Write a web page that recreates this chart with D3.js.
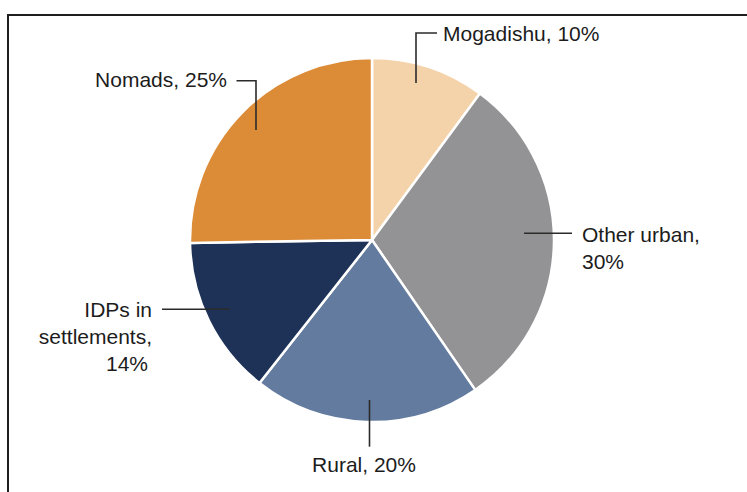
<!DOCTYPE html>
<html>
<head>
<meta charset="utf-8">
<script src="https://cdn.jsdelivr.net/npm/d3@7"></script>
<style>
  html, body { margin: 0; padding: 0; background: #fff; }
  svg { display: block; }
  text { font-family: "Liberation Sans", Arial, Helvetica, sans-serif; fill: #1c1c1c; }
</style>
</head>
<body>
<svg id="chart" width="747" height="492"></svg>
<script>
// Population groups and their shares (%)
const categories = ["Mogadishu", "Other urban", "Rural", "IDPs in settlements", "Nomads"];
const shares = [10, 30, 20, 14, 25];
const labelLines = [
  ["Mogadishu, 10%"],
  ["Other urban,", "30%"],
  ["Rural, 20%"],
  ["IDPs in", "settlements,", "14%"],
  ["Nomads, 25%"]
];
const colors = ["#f4d3aa", "#939395", "#637b9e", "#1e3258", "#dc8b37"];

const W = 747, H = 492;
const cx = 372, cy = 240, R = 182;

const svg = d3.select("#chart");

// frame (top and left edges)
svg.append("path")
  .attr("d", `M8,${H} L8,15 L${W},15`)
  .attr("fill", "none")
  .attr("stroke", "#1e1e1e")
  .attr("stroke-width", 2);

const g = svg.append("g").attr("transform", `translate(${cx},${cy})`);

const pie = d3.pie().sort(null).value(d => d.value);
const arc = d3.arc().innerRadius(0).outerRadius(R);

const data = categories.map((c, i) => ({ name: c, value: shares[i], color: colors[i], lines: labelLines[i] }));
const arcs = pie(data);

g.selectAll("path.slice")
  .data(arcs)
  .join("path")
  .attr("class", "slice")
  .attr("d", arc)
  .attr("fill", d => d.data.color)
  .attr("stroke", "#fff")
  .attr("stroke-width", 2.5)
  .attr("stroke-linejoin", "round");

// Leader lines and label placement, offsets from the pie centre
const layout = {
  "Mogadishu": { path: [[44, -157], [44, -207], [65, -207]], text: [71, -199.5], anchor: "start" },
  "Other urban": { path: [[152, -6.7], [200, -6.7]], text: [210, 1.7], anchor: "start" },
  "Rural": { path: [[-2.5, 160], [-2.5, 206.7]], text: [-8, 231.7], anchor: "middle" },
  "IDPs in settlements": { path: [[-142, 69.3], [-210, 69.3]], text: [-220, 76.7], anchor: "end" },
  "Nomads": { path: [[-116, -110], [-116, -159.3], [-135.5, -159.3]], text: [-145, -152.7], anchor: "end" }
};

const line = d3.line();
const lineH = 27;

arcs.forEach(a => {
  const L = layout[a.data.name];
  g.append("path")
    .attr("d", line(L.path))
    .attr("fill", "none")
    .attr("stroke", "#2b2b2b")
    .attr("stroke-width", 1.6);

  const t = g.append("text")
    .attr("x", L.text[0])
    .attr("y", L.text[1])
    .attr("text-anchor", L.anchor)
    .attr("font-size", 21);
  a.data.lines.forEach((s, j) => {
    t.append("tspan")
      .attr("x", L.text[0] - (a.data.name === "IDPs in settlements" && j === 2 ? 4 : 0))
      .attr("dy", j === 0 ? 0 : lineH)
      .text(s);
  });
});
</script>
</body>
</html>
